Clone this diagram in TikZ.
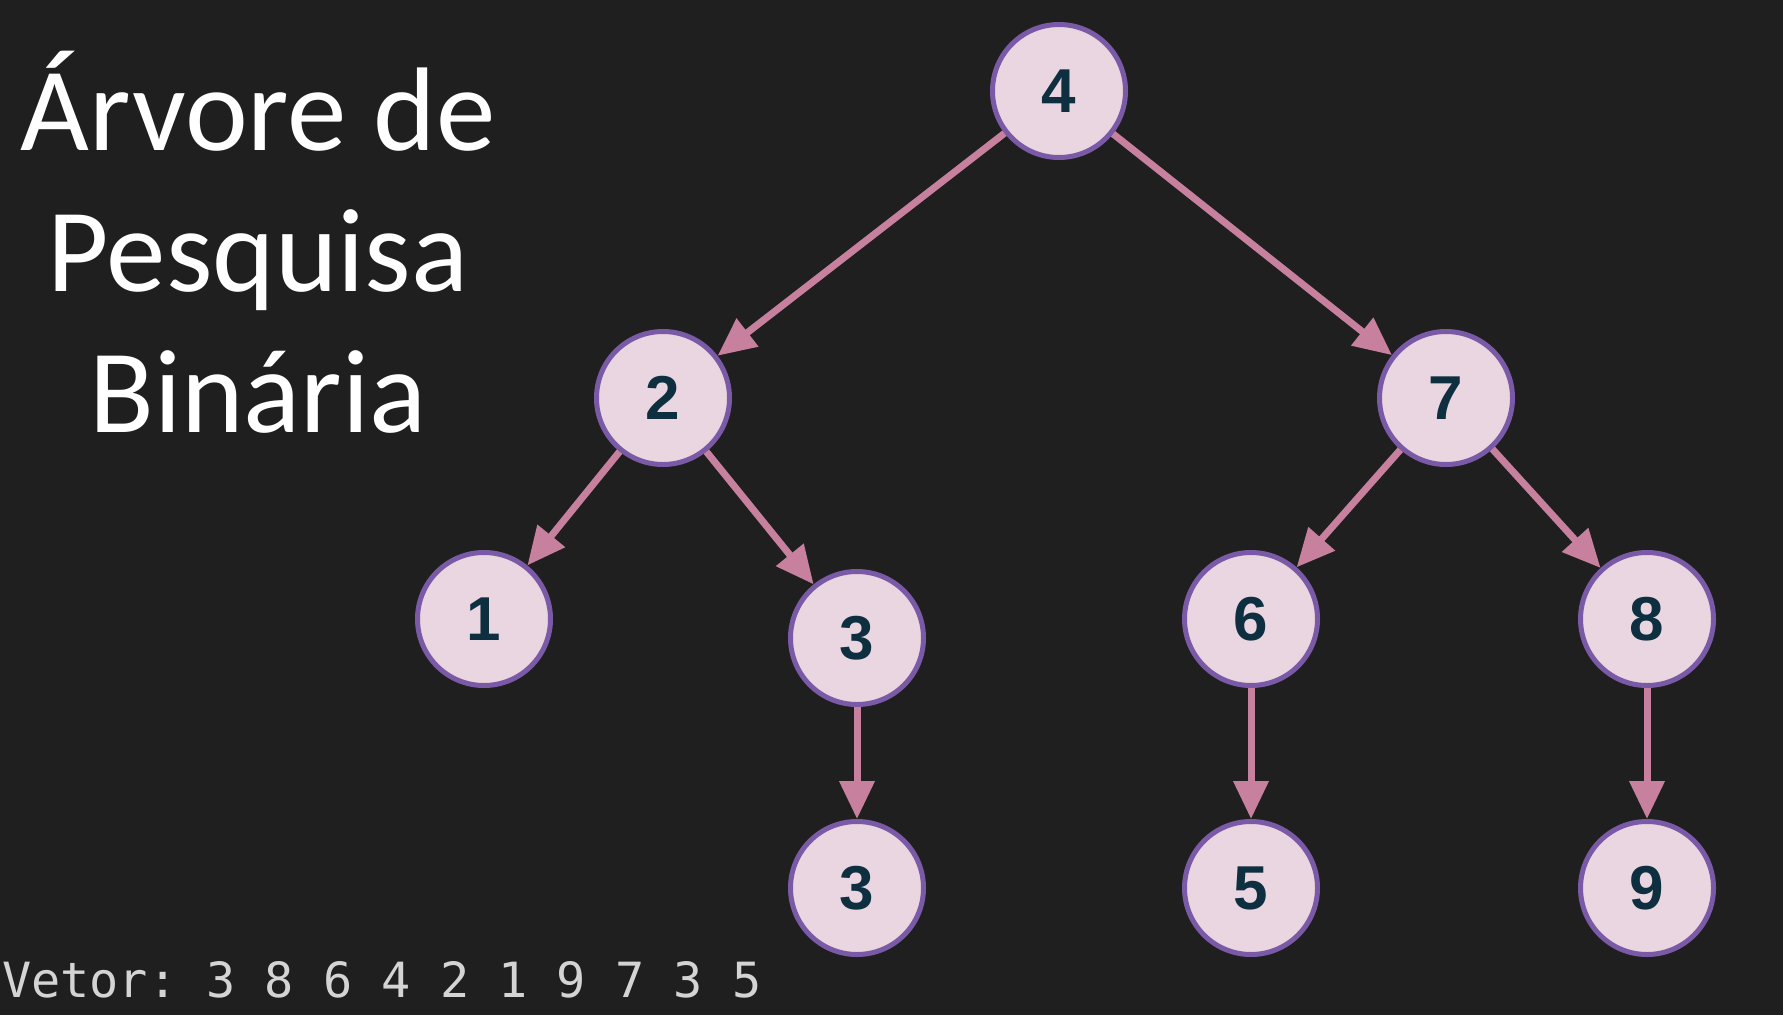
\documentclass[tikz,border=0pt]{standalone}
\usepackage{fontspec}
\setmainfont{Liberation Sans}
\newfontfamily\titlefont{Carlito}
\setmonofont{DejaVu Sans Mono}
\usepackage{tikz}
\usetikzlibrary{positioning,arrows.meta}
\definecolor{bgdark}{HTML}{1F1F1F}
\definecolor{nodefill}{HTML}{EAD6E0}
\definecolor{nodeline}{HTML}{7A5AA6}
\definecolor{edgepink}{HTML}{C8809F}
\definecolor{digitink}{HTML}{0E2F3F}
\definecolor{vecgray}{HTML}{D4D4D4}

\begin{document}
\begin{tikzpicture}[x=1pt, y=-1pt, on grid,
    bst node/.style={circle, draw=nodeline, fill=nodefill, line width=5pt, minimum size=133pt, inner sep=0pt, text=digitink, font=\fontsize{62}{62}\selectfont\bfseries},
    bst edge/.style={draw=edgepink, line width=7pt, -{Triangle[length=38pt,width=34pt]}}]
    \fill[bgdark] (0,0) rectangle (1783,1015);
    \useasboundingbox (0,0) rectangle (1783,1015);

    \node[anchor=base, align=center, text=white, font=\titlefont\fontsize{119}{141}\selectfont] (title) at (258,432) {Árvore de\\Pesquisa\\Binária};

    \node[bst node] (n4) at (1059,91) {4};
    \node[bst node, below left=307pt and 396pt of n4] (n2) {2};
    \node[bst node, below right=307pt and 387pt of n4] (n7) {7};
    \node[bst node, below left=221pt and 179pt of n2] (n1) {1};
    \node[bst node, below right=240pt and 194pt of n2] (n3) {3};
    \node[bst node, below left=221pt and 195pt of n7] (n6) {6};
    \node[bst node, below right=221pt and 201pt of n7] (n8) {8};
    \node[bst node, below=250pt of n3] (n3b) {3};
    \node[bst node, below=269pt of n6] (n5) {5};
    \node[bst node, below=269pt of n8] (n9) {9};

    \node[anchor=base west, inner sep=0pt, text=vecgray, font=\ttfamily\fontsize{48.5}{48.5}\selectfont] (vetor) at (2,997) {Vetor: 3 8 6 4 2 1 9 7 3 5};

    \draw[bst edge] (n4) -- (n2);
    \draw[bst edge] (n4) -- (n7);
    \draw[bst edge] (n2) -- (n1);
    \draw[bst edge] (n2) -- (n3);
    \draw[bst edge] (n7) -- (n6);
    \draw[bst edge] (n7) -- (n8);
    \draw[bst edge] (n3) -- (n3b); % duplicate key
    \draw[bst edge] (n6) -- (n5);
    \draw[bst edge] (n8) -- (n9);
\end{tikzpicture}
\end{document}
